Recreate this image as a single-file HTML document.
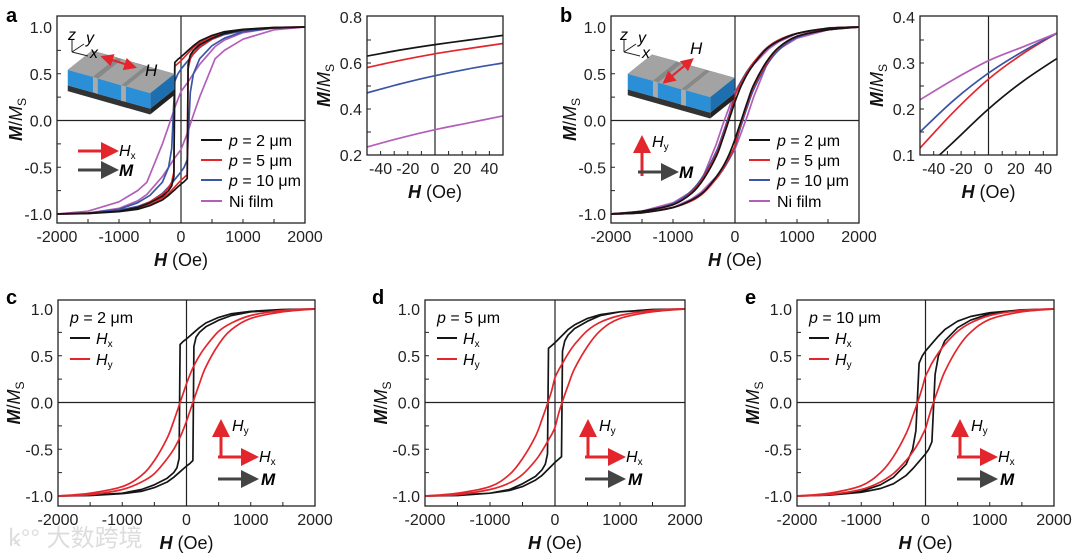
<!DOCTYPE html>
<html><head><meta charset="utf-8"><style>
body{margin:0;background:#fff;}
svg{display:block;font-family:"Liberation Sans",Arial,sans-serif;}
</style></head><body>
<svg id="fig" width="1080" height="556" viewBox="0 0 1080 556" xmlns="http://www.w3.org/2000/svg">
<text x="8" y="546" font-size="24" fill="#ddd" font-family="Liberation Sans,Noto Sans CJK SC,sans-serif">ꝃ°° 大数跨境</text>
</svg>
<script>
// ---- data (descending branches; ascending = mirror) ----
const aP2H=[2000,1500,1000,700,500,300,200,100,50,0,-50,-100,-115,-150,-200,-300,-500,-700,-1000,-1500,-2000];
const aP2M=[1,0.995,0.975,0.95,0.91,0.85,0.80,0.74,0.71,0.68,0.655,0.62,-0.6,-0.7,-0.75,-0.81,-0.88,-0.93,-0.97,-0.99,-1];
const aP5H=[2000,1500,1000,700,500,300,200,100,50,0,-50,-100,-115,-150,-200,-300,-500,-700,-1000,-1500,-2000];
const aP5M=[1,0.995,0.97,0.94,0.9,0.83,0.78,0.71,0.675,0.64,0.61,0.58,-0.55,-0.66,-0.72,-0.79,-0.87,-0.93,-0.97,-0.99,-1];
const aP10H=[2000,1500,1000,700,500,300,200,100,50,0,-50,-100,-150,-200,-300,-500,-700,-1000,-1500,-2000];
const aP10M=[1,0.99,0.96,0.92,0.87,0.78,0.71,0.63,0.59,0.55,0.5,0.42,-0.3,-0.5,-0.66,-0.8,-0.88,-0.95,-0.99,-1];
const aNiH=[2000,1500,1000,700,550,300,100,0,-100,-200,-300,-550,-700,-1000,-1500,-2000];
const aNiM=[1,0.99,0.94,0.86,0.79,0.6,0.4,0.31,0.14,-0.06,-0.25,-0.66,-0.75,-0.87,-0.97,-1];
const bH=[2000,1500,1000,700,500,300,200,100,50,0,-50,-100,-200,-300,-500,-700,-1000,-1500,-2000];
const bP2M=[1,0.985,0.93,0.85,0.76,0.6,0.5,0.37,0.29,0.2,0.1,0.0,-0.2,-0.38,-0.62,-0.78,-0.9,-0.97,-1];
const bP5M=[1,0.985,0.93,0.86,0.77,0.62,0.52,0.4,0.34,0.265,0.13,0.02,-0.18,-0.36,-0.6,-0.77,-0.9,-0.97,-1];
const bP10M=[1,0.985,0.93,0.85,0.76,0.62,0.53,0.42,0.35,0.28,0.16,0.05,-0.15,-0.33,-0.58,-0.75,-0.89,-0.97,-1];
const bNiH=[2000,1500,1000,700,550,300,100,50,0,-50,-100,-200,-300,-550,-700,-1000,-1500,-2000];
const bNiM=[1,0.99,0.93,0.84,0.77,0.6,0.42,0.365,0.305,0.22,0.13,-0.05,-0.25,-0.66,-0.76,-0.88,-0.97,-1];
const insH=[-50,-25,0,25,50];
const insAP2=[0.63,0.657,0.68,0.70,0.72];
const insAP5=[0.58,0.612,0.64,0.663,0.685];
const insAP10=[0.47,0.51,0.545,0.575,0.60];
const insANi=[0.235,0.275,0.31,0.34,0.37];
const insBP2=[0.06,0.13,0.2,0.26,0.31];
const insBP5=[0.115,0.195,0.265,0.32,0.365];
const insBP10=[0.15,0.22,0.278,0.325,0.365];
const insBNi=[0.22,0.265,0.305,0.335,0.365];
const mainXTicks=[-2000,-1000,0,1000,2000];
const mainYTicks=[-1.0,-0.5,0.0,0.5,1.0];
const insXTicks=[-40,-20,0,20,40];
const insAYTicks=[0.2,0.4,0.6,0.8];
const insBYTicks=[0.1,0.2,0.3,0.4];

const C={k:'#151515',r:'#e2262c',b:'#3a55a6',p:'#b35fba'};
const NS='http://www.w3.org/2000/svg';
const svg=document.getElementById('fig');
function el(tag,attrs,parent){const e=document.createElementNS(NS,tag);for(const k in attrs)e.setAttribute(k,attrs[k]);(parent||svg).appendChild(e);return e;}
function smoothPath(P){
  let d='M'+P[0][0].toFixed(1)+','+P[0][1].toFixed(1);
  for(let i=0;i<P.length-1;i++){
    const p0=P[Math.max(0,i-1)],p1=P[i],p2=P[i+1],p3=P[Math.min(P.length-1,i+2)];
    const c1=[p1[0]+(p2[0]-p0[0])/6,p1[1]+(p2[1]-p0[1])/6];
    const c2=[p2[0]-(p3[0]-p1[0])/6,p2[1]-(p3[1]-p1[1])/6];
    d+='C'+c1[0].toFixed(1)+','+c1[1].toFixed(1)+' '+c2[0].toFixed(1)+','+c2[1].toFixed(1)+' '+p2[0].toFixed(1)+','+p2[1].toFixed(1);
  }
  return d;
}
let clipId=0;
function plot(name,box,xd,yd,xt,yt,xminor,yminor,fmtY,opts){
  const g=el('g',{});
  
  
  const sx=v=>box.x0+(v-xd[0])/(xd[1]-xd[0])*(box.x1-box.x0);
  const sy=v=>box.ya+(v-yd[0])/(yd[1]-yd[0])*(box.yb-box.ya);
  const cid='c'+(clipId++);
  const cp=el('clipPath',{id:cid},g);
  el('rect',{x:box.x0,y:box.top,width:box.x1-box.x0,height:box.bot-box.top},cp);
  if(opts.hz){const l=el('line',{x1:box.x0,x2:box.x1,y1:sy(0),y2:sy(0),stroke:'#222','stroke-width':1.2},g);
    }
  const lv=el('line',{x1:sx(0),x2:sx(0),y1:box.top,y2:box.bot,stroke:'#222','stroke-width':1.2},g);
  
  for(const v of xminor){const x=sx(v);el('line',{x1:x,x2:x,y1:box.bot,y2:box.bot-4,stroke:'#222','stroke-width':1},g);}
  for(const v of yminor){const y=sy(v);el('line',{x1:box.x0,x2:box.x0+4,y1:y,y2:y,stroke:'#222','stroke-width':1},g);}
  for(const v of xt){const t=el('text',{x:sx(v),y:box.bot+19,'font-size':16,'text-anchor':'middle',fill:'#222'},g);t.textContent=v;
    }
  for(const v of yt){const t=el('text',{x:box.x0-5,y:sy(v)+6,'font-size':16,'text-anchor':'end',fill:'#222'},g);t.textContent=fmtY(v);
    }
  const sg=el('g',{'clip-path':'url(#'+cid+')'},g);
  for(const s of opts.series){
    let pts=s.H.map((h,i)=>[h,s.M[i]]);
    let branches=[pts];
    if(s.loop){branches.push(pts.map(p=>[-p[0],-p[1]]));}
    let d='';
    for(const br of branches){
      const P=br.map(p=>[sx(p[0]),sy(p[1])]);
      d+= s.smooth ? smoothPath(P) : P.map((p,i)=>(i?'L':'M')+p[0].toFixed(1)+','+p[1].toFixed(1)).join('');
    }
    const path=el('path',{d:d,fill:'none',stroke:s.c,'stroke-width':1.7,'stroke-linejoin':'round'},sg);
    
    
  }
  const fr=el('rect',{x:box.x0,y:box.top,width:box.x1-box.x0,height:box.bot-box.top,fill:'none',stroke:'#222','stroke-width':1.3},g);
  
  const xt2=el('text',{x:(box.x0+box.x1)/2,y:box.bot+43,'font-size':18,'text-anchor':'middle',fill:'#111'},g);
  xt2.innerHTML='<tspan font-weight="bold" font-style="italic">H</tspan> (Oe)';
  
  const cy=(box.top+box.bot)/2;
  const yt2=el('text',{x:opts.ytx,y:cy,'font-size':18,'text-anchor':'middle',fill:'#111',transform:'rotate(-90 '+opts.ytx+' '+cy+')'},g);
  yt2.innerHTML='<tspan font-weight="bold" font-style="italic">M</tspan>/<tspan font-style="italic">M</tspan><tspan font-size="12" dy="4">S</tspan>';
  
}
const f1=v=>v.toFixed(1);
const mxMinor=[-1500,-1000,-500,0,500,1000,1500], myMinor=[-0.75,-0.5,-0.25,0,0.25,0.5,0.75];
const ixMinor=[-40,-30,-20,-10,0,10,20,30,40];
plot('panel-a-main',{x0:57,x1:305,top:16,bot:223,ya:214,yb:27},[-2000,2000],[-1,1],mainXTicks,mainYTicks,mxMinor,myMinor,f1,
 {hz:true,ytx:22,series:[{H:aNiH,M:aNiM,c:C.p,loop:1,name:'ni-film-hx-loop'},{H:aP10H,M:aP10M,c:C.b,loop:1,name:'p10-hx-loop'},{H:aP5H,M:aP5M,c:C.r,loop:1,name:'p5-hx-loop'},{H:aP2H,M:aP2M,c:C.k,loop:1,name:'p2-hx-loop'}]});
plot('panel-a-inset',{x0:367,x1:503,top:16,bot:155,ya:155,yb:17},[-50,50],[0.2,0.8],insXTicks,insAYTicks,ixMinor,[0.3,0.4,0.5,0.6,0.7],f1,
 {hz:false,ytx:330,series:[{H:insH,M:insAP2,c:C.k,smooth:1,name:'inset-a-p2'},{H:insH,M:insAP5,c:C.r,smooth:1,name:'inset-a-p5'},{H:insH,M:insAP10,c:C.b,smooth:1,name:'inset-a-p10'},{H:insH,M:insANi,c:C.p,smooth:1,name:'inset-a-ni'}]});
plot('panel-b-main',{x0:611,x1:859,top:16,bot:223,ya:214,yb:27},[-2000,2000],[-1,1],mainXTicks,mainYTicks,mxMinor,myMinor,f1,
 {hz:true,ytx:576,series:[{H:bNiH,M:bNiM,c:C.p,loop:1,name:'ni-film-hy-loop'},{H:bH,M:bP10M,c:C.b,loop:1,smooth:1,name:'p10-hy-loop'},{H:bH,M:bP5M,c:C.r,loop:1,smooth:1,name:'p5-hy-loop'},{H:bH,M:bP2M,c:C.k,loop:1,smooth:1,name:'p2-hy-loop'}]});
plot('panel-b-inset',{x0:920,x1:1057,top:16,bot:155,ya:155,yb:17},[-50,50],[0.1,0.4],insXTicks,insBYTicks,ixMinor,[0.15,0.2,0.25,0.3,0.35],f1,
 {hz:false,ytx:883,series:[{H:insH,M:insBP2,c:C.k,smooth:1,name:'inset-b-p2'},{H:insH,M:insBP5,c:C.r,smooth:1,name:'inset-b-p5'},{H:insH,M:insBP10,c:C.b,smooth:1,name:'inset-b-p10'},{H:insH,M:insBNi,c:C.p,smooth:1,name:'inset-b-ni'}]});
const bottoms=[['c',58,315,aP2H,aP2M,bP2M],['d',425,685,aP5H,aP5M,bP5M],['e',797,1054,aP10H,aP10M,bP10M]];
for(const [n,x0,x1,hh,mx,my] of bottoms){
  plot('panel-'+n,{x0:x0,x1:x1,top:300,bot:506,ya:496,yb:309},[-2000,2000],[-1,1],mainXTicks,mainYTicks,mxMinor,myMinor,f1,
   {hz:true,ytx:x0-38,series:[{H:hh,M:mx,c:C.k,loop:1,name:'hx-loop'},{H:bH,M:my,c:C.r,loop:1,smooth:1,name:'hy-loop'}]});
}
</script>
<script>
const S=document.getElementById('fig');
S.insertAdjacentHTML('beforeend',`
<defs>
<marker id="ar" markerWidth="6" markerHeight="6" refX="1" refY="3" orient="auto" markerUnits="strokeWidth"><path d="M0,0 L6,3 L0,6 z" fill="#e2262c"/></marker>
<marker id="ak" markerWidth="6" markerHeight="6" refX="1" refY="3" orient="auto" markerUnits="strokeWidth"><path d="M0,0 L6,3 L0,6 z" fill="#444"/></marker>
<marker id="ar2" markerWidth="6" markerHeight="6" refX="3" refY="3" orient="auto-start-reverse" markerUnits="strokeWidth"><path d="M0,0 L6,3 L0,6 z" fill="#e2262c"/></marker>
<g id="sample">
 <polygon points="75,88 160,112 160,118 75,94" fill="#333"/>
 <polygon points="160,112 185,92 185,98 160,118" fill="#222"/>
 <polygon points="75,72 100,52 185,76 160,96" fill="#888"/>
 <polygon points="75,72 160,96 160,112 75,88" fill="#2a8fd6"/>
 <polygon points="160,96 185,76 185,92 160,112" fill="#1d6fb0"/>
 <polygon points="75,72 100,52 126,59 101,79" fill="#a3a3a3"/>
 <polygon points="106,81 131,61 155,68 130,88" fill="#a3a3a3"/>
 <polygon points="135,89 160,69 185,76 160,96" fill="#a3a3a3"/>
 <polygon points="101,79 106,81 106,97 101,95" fill="#aaa"/>
 <polygon points="130,88 135,89 135,105 130,104" fill="#aaa"/>
</g>
</defs>
<text x="6" y="22" font-size="20" font-weight="bold">a</text>
<text x="560" y="22" font-size="20" font-weight="bold">b</text>
<text x="6" y="304" font-size="20" font-weight="bold">c</text>
<text x="372" y="304" font-size="20" font-weight="bold">d</text>
<text x="745" y="304" font-size="20" font-weight="bold">e</text>
<g transform="translate(-5,0) scale(0.97)">
 <use href="#sample"/>
 <line x1="115" y1="60" x2="140" y2="68" stroke="#e2262c" stroke-width="2.2" marker-start="url(#ar2)" marker-end="url(#ar2)"/>
</g>
<text x="145" y="76" font-size="17" font-style="italic">H</text>
<g stroke="#222" stroke-width="1" fill="none">
 <path d="M72,52 L72,40 M72,52 L84,44 M72,52 L88,56"/>
</g>
<text x="68" y="40" font-size="16" font-style="italic">z</text>
<text x="86" y="43" font-size="16" font-style="italic">y</text>
<text x="90" y="58" font-size="16" font-style="italic">x</text>
<g transform="translate(555,4) scale(0.97)">
 <use href="#sample"/>
 <line x1="116" y1="78" x2="138" y2="60" stroke="#e2262c" stroke-width="2.2" marker-start="url(#ar2)" marker-end="url(#ar2)"/>
</g>
<text x="690" y="54" font-size="17" font-style="italic">H</text>
<g stroke="#222" stroke-width="1" fill="none"><path d="M624,52 L624,40 M624,52 L636,44 M624,52 L640,56"/></g>
<text x="620" y="40" font-size="16" font-style="italic">z</text>
<text x="638" y="43" font-size="16" font-style="italic">y</text>
<text x="642" y="58" font-size="16" font-style="italic">x</text>
`);
function legend(x,ys,items){
  items.forEach((it,i)=>{
    S.insertAdjacentHTML('beforeend',`<g><line x1="${x}" x2="${x+21}" y1="${ys[i]}" y2="${ys[i]}" stroke="${it[0]}" stroke-width="2"/><text x="${x+28}" y="${ys[i]+6}" font-size="16">${it[1]}</text></g>`);
  });
}
const pl=n=>`<tspan font-style="italic">p</tspan> = ${n} μm`;
legend(201,[140,160,180,201],[[C.k,pl(2)],[C.r,pl(5)],[C.b,pl(10)],[C.p,'Ni film']]);
legend(749,[140,160,180,201],[[C.k,pl(2)],[C.r,pl(5)],[C.b,pl(10)],[C.p,'Ni film']]);
const sub=(c)=>`<tspan font-size="10" font-style="normal" dy="3">${c}</tspan>`;
S.insertAdjacentHTML('beforeend',`
<g>
<line x1="78" y1="151" x2="104" y2="151" stroke="#e2262c" stroke-width="3" marker-end="url(#ar)"/>
<line x1="78" y1="170" x2="104" y2="170" stroke="#444" stroke-width="3" marker-end="url(#ak)"/>
</g>
<text x="119" y="156" font-size="16" font-style="italic">H${sub('x')}</text>
<text x="119" y="176" font-size="17" font-style="italic" font-weight="bold">M</text>
<g>
<line x1="642" y1="176" x2="642" y2="150" stroke="#e2262c" stroke-width="3" marker-end="url(#ar)"/>
<line x1="638" y1="172" x2="664" y2="172" stroke="#444" stroke-width="3" marker-end="url(#ak)"/>
</g>
<text x="652" y="147" font-size="16" font-style="italic">H${sub('y')}</text>
<text x="679" y="178" font-size="17" font-style="italic" font-weight="bold">M</text>
`);
[[58,'2'],[425,'5'],[797,'10']].forEach(([x0,p])=>{
  S.insertAdjacentHTML('beforeend',`
<text x="${x0+12}" y="323" font-size="16">${pl(p)}</text>
<g><line x1="${x0+12}" x2="${x0+32}" y1="338" y2="338" stroke="#151515" stroke-width="2"/><text x="${x0+38}" y="344" font-size="16" font-style="italic">H${sub('x')}</text></g>
<g><line x1="${x0+12}" x2="${x0+32}" y1="359" y2="359" stroke="#e2262c" stroke-width="2"/><text x="${x0+38}" y="365" font-size="16" font-style="italic">H${sub('y')}</text></g>
<g>
<line x1="${x0+163}" y1="458" x2="${x0+163}" y2="434" stroke="#e2262c" stroke-width="3" marker-end="url(#ar)"/>
<line x1="${x0+160}" y1="457" x2="${x0+186}" y2="457" stroke="#e2262c" stroke-width="3" marker-end="url(#ar)"/>
<line x1="${x0+160}" y1="479" x2="${x0+186}" y2="479" stroke="#444" stroke-width="3" marker-end="url(#ak)"/>
</g>
<text x="${x0+174}" y="431" font-size="16" font-style="italic">H${sub('y')}</text>
<text x="${x0+201}" y="462" font-size="16" font-style="italic">H${sub('x')}</text>
<text x="${x0+203}" y="485" font-size="17" font-style="italic" font-weight="bold">M</text>
`);
});
</script>
</body></html>
